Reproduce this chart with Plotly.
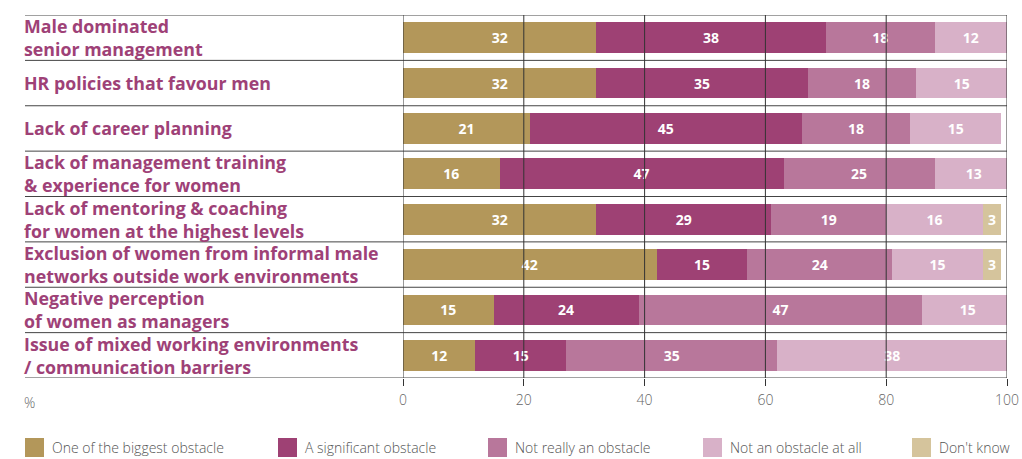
import plotly.graph_objects as go

# Survey: obstacles to women reaching senior positions (%)
categories = [
    "Male dominated<br>senior management",
    "HR policies that favour men",
    "Lack of career planning",
    "Lack of management training<br>& experience for women",
    "Lack of mentoring & coaching<br>for women at the highest levels",
    "Exclusion of women from informal male<br>networks outside work environments",
    "Negative perception<br>of women as managers",
    "Issue of mixed working environments<br>/ communication barriers",
]

series_names = [
    "One of the biggest obstacle",
    "A significant obstacle",
    "Not really an obstacle",
    "Not an obstacle at all",
    "Don't know",
]

biggest = [32, 32, 21, 16, 32, 42, 15, 12]
significant = [38, 35, 45, 47, 29, 15, 24, 15]
not_really = [18, 18, 18, 25, 19, 24, 47, 35]
not_at_all = [12, 15, 15, 13, 16, 15, 15, 38]
dont_know = [None, None, None, None, 3, 3, None, None]

series_values = [biggest, significant, not_really, not_at_all, dont_know]
colors = ["#b3975a", "#9e4174", "#b8779b", "#d8b1c8", "#d5c49c"]

x_ticks = [0, 20, 40, 60, 80, 100]

W, H = 1022, 459
ML, MR, MT, MB = 403, 15, 15, 81
PW, PH = W - ML - MR, H - MT - MB


def px_x(px):
    return (px - ML) / PW


def px_y(py):
    return (H - MB - py) / PH


ykeys = list(range(len(categories)))

fig = go.Figure()
for name, vals, col in zip(series_names, series_values, colors):
    fig.add_trace(go.Bar(
        y=ykeys,
        x=vals,
        name=name,
        orientation="h",
        marker=dict(color=col, line=dict(width=0)),
        width=0.68,
        text=[("" if v is None else str(v)) for v in vals],
        textposition="inside",
        insidetextanchor="middle",
        textangle=0,
        textfont=dict(family="Open Sans", size=14, color="white", weight="bold"),
        showlegend=False,
        hoverinfo="x+name",
    ))

shapes = []
# row separators
for i in range(len(categories) + 1):
    shapes.append(dict(
        type="line", xref="paper", yref="y",
        x0=px_x(25), x1=1, y0=i - 0.5, y1=i - 0.5,
        line=dict(color="#444444", width=1), layer="above",
    ))
# vertical grid lines drawn over the bars
for t in x_ticks:
    shapes.append(dict(
        type="line", xref="x", yref="paper",
        x0=t, x1=t, y0=0, y1=1,
        line=dict(color="#333333", width=1), layer="above",
    ))

annotations = []
# category labels, left aligned in the margin
for k, label in zip(ykeys, categories):
    annotations.append(dict(
        x=px_x(22), xref="paper", y=k, yref="y",
        text=label, showarrow=False, xanchor="left", align="left",
        yanchor="middle",
        font=dict(family="Open Sans", size=17.8, color="#9e4177", weight="bold"),
    ))
annotations.append(dict(
    x=px_x(22), xref="paper", y=px_y(402), yref="paper",
    text="%", showarrow=False, xanchor="left", yanchor="middle",
    font=dict(family="Open Sans", size=14, color="#666666", weight=300),
))

# legend row
legend_left = [25, 278, 488, 703, 912]
for name, col, lx in zip(series_names, colors, legend_left):
    shapes.append(dict(
        type="rect", xref="paper", yref="paper",
        x0=px_x(lx), x1=px_x(lx + 19), y0=px_y(438), y1=px_y(457),
        fillcolor=col, line=dict(width=0),
    ))
    annotations.append(dict(
        x=px_x(lx + 25), xref="paper", y=px_y(447.5), yref="paper",
        text=name, showarrow=False, xanchor="left", yanchor="middle",
        font=dict(family="Open Sans", size=14, color="#555555", weight=300),
    ))

fig.update_layout(
    width=W, height=H,
    margin=dict(l=ML, r=MR, t=MT, b=MB, autoexpand=False),
    barmode="stack",
    bargap=0.32,
    plot_bgcolor="white",
    paper_bgcolor="white",
    shapes=shapes,
    annotations=annotations,
    showlegend=False,
    xaxis=dict(
        range=[0, 100],
        tickvals=x_ticks,
        ticktext=[str(t) for t in x_ticks],
        showgrid=False,
        zeroline=False,
        showline=False,
        ticks="outside",
        ticklen=7,
        tickcolor="#333333",
        tickwidth=1,
        ticklabelstandoff=2,
        tickfont=dict(family="Open Sans", size=14, color="#666666", weight=300),
        automargin=False,
        fixedrange=True,
    ),
    yaxis=dict(
        range=[len(categories) - 0.5, -0.5],
        showticklabels=False,
        showgrid=False,
        zeroline=False,
        showline=False,
        ticks="",
        automargin=False,
        fixedrange=True,
    ),
)

fig.write_html("out.html")
